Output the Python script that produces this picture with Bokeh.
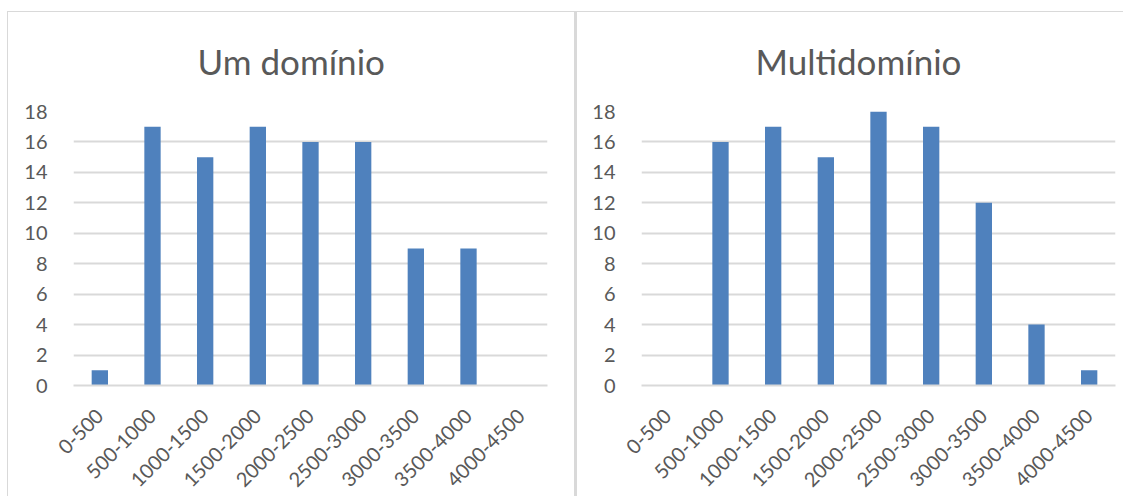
from bokeh.plotting import figure
from bokeh.layouts import row
from bokeh.models import FactorRange, Range1d, FixedTicker, ColumnDataSource
from bokeh.embed import file_html
from bokeh.resources import INLINE
import math

categories = ["0-500", "500-1000", "1000-1500", "1500-2000", "2000-2500",
              "2500-3000", "3000-3500", "3500-4000", "4000-4500"]
um_dominio = [1, 17, 15, 17, 16, 16, 9, 9, 0]
multidominio = [0, 16, 17, 15, 18, 17, 12, 4, 1]
y_ticks = [0, 2, 4, 6, 8, 10, 12, 14, 16, 18]
titles = ["Um domínio", "Multidomínio"]

FONT = "Lato"
TXT = "#595959"
GRID = "#d9d9d9"
BAR = "#4f81bd"


def make(title, values, width, left, right, title_offset, styles, margin):
    src = ColumnDataSource(dict(cat=categories, val=values))
    p = figure(x_range=FactorRange(*categories), y_range=Range1d(0, 18),
               width=width, height=485, output_backend="svg",
               toolbar_location=None, title=title,
               min_border_left=left, min_border_right=right,
               min_border_top=99, min_border_bottom=112,
               margin=margin, styles=styles)
    p.vbar(x="cat", top="val", width=0.31, source=src, color=BAR, line_color=None)
    p.title.align = "left"
    p.title.offset = title_offset
    p.title.vertical_align = "top"
    p.title.text_font = FONT
    p.title.text_font_size = "35px"
    p.title.text_font_style = "normal"
    p.title.text_color = TXT
    p.title.standoff = 55
    p.outline_line_color = None
    p.background_fill_color = "white"
    p.border_fill_color = "white"

    p.yaxis.ticker = FixedTicker(ticks=y_ticks)
    p.yaxis.axis_line_color = None
    p.yaxis.major_tick_line_color = None
    p.yaxis.minor_tick_line_color = None
    p.yaxis.major_label_standoff = 20
    p.yaxis.major_label_text_font = FONT
    p.yaxis.major_label_text_font_size = "20px"
    p.yaxis.major_label_text_color = TXT

    p.xaxis.axis_line_color = GRID
    p.xaxis.axis_line_width = 2
    p.xaxis.major_tick_line_color = None
    p.xaxis.minor_tick_line_color = None
    p.xaxis.major_label_orientation = math.pi / 4
    p.xaxis.major_label_standoff = 21
    p.xaxis.major_label_text_font = FONT
    p.xaxis.major_label_text_font_size = "20px"
    p.xaxis.major_label_text_color = TXT

    p.xgrid.grid_line_color = None
    p.ygrid.grid_line_color = GRID
    p.ygrid.grid_line_width = 2
    return p


left_styles = {"border-top": "1px solid #d9d9d9", "border-left": "1px solid #d9d9d9",
               "border-right": "1px solid #d9d9d9", "box-sizing": "border-box"}
right_styles = {"border-top": "1px solid #d9d9d9", "border-left": "2px solid #d9d9d9",
                "box-sizing": "border-box"}

p1 = make(titles[0], um_dominio, 568, 65, 29, 124, left_styles, (11, 0, 0, 7))
p2 = make(titles[1], multidominio, 548, 64, 10, 114, right_styles, (11, 0, 0, 0))
layout = row(p1, p2, spacing=0)

open("out.html", "w").write(file_html(layout, INLINE))
